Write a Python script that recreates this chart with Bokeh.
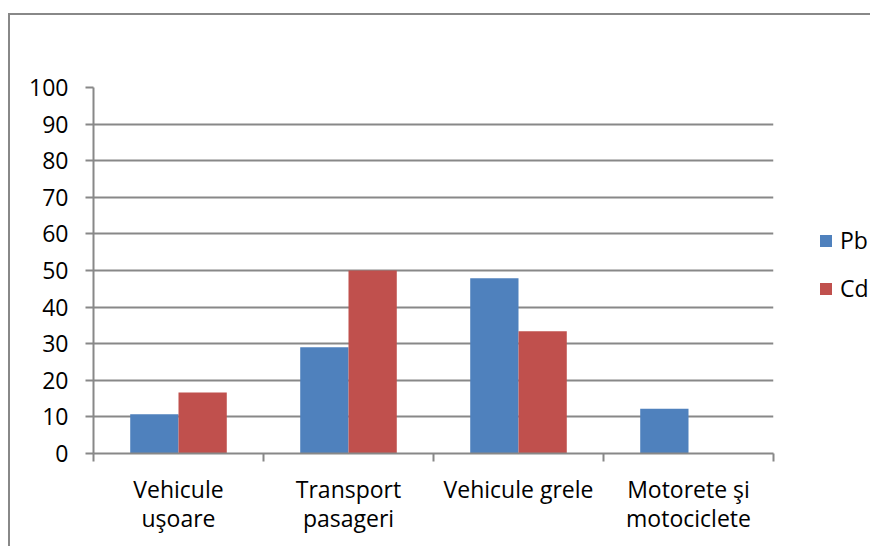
import numpy as np
from bokeh.plotting import figure
from bokeh.models import Range1d, FixedTicker, Legend, LegendItem, ColumnDataSource
from bokeh.embed import file_html
from bokeh.resources import INLINE

categories = ["Vehicule\nuşoare", "Transport\npasageri", "Vehicule grele", "Motorete şi\nmotociclete"]
series_names = ["Pb", "Cd"]
pb_values = [10.7, 29.0, 47.9, 12.2]
cd_values = [16.7, 50.0, 33.4, 0.0]
y_ticks = [0, 10, 20, 30, 40, 50, 60, 70, 80, 90, 100]

PB_COLOR = "#4F81BD"
CD_COLOR = "#C0504D"
GRAY = "#888888"
FONT = "Open Sans"

n = len(categories)
centers = np.arange(n) + 0.5
bw = 0.284

p = figure(output_backend="svg", toolbar_location=None,
           x_range=Range1d(0, n), y_range=Range1d(0, 100),
           frame_width=680, frame_height=366,
           min_border_left=83, min_border_top=72, min_border_right=97, min_border_bottom=93)
p.outline_line_color = None
p.background_fill_color = "white"
p.border_fill_color = "white"
p.styles = {"border-top": "2px solid #888888", "border-left": "2px solid #888888",
            "margin-top": "13px", "margin-left": "8px"}

src = ColumnDataSource(dict(xpb=centers - bw / 2, xcd=centers + bw / 2, pb=pb_values, cd=cd_values))
r_pb = p.vbar(x="xpb", top="pb", width=bw, source=src, fill_color=PB_COLOR, line_color=None)
r_cd = p.vbar(x="xcd", top="cd", width=bw, source=src, fill_color=CD_COLOR, line_color=None)

# x axis: ticks at category boundaries, labels at centers
p.xaxis.ticker = FixedTicker(ticks=list(centers), minor_ticks=list(range(n + 1)))
p.xaxis.major_label_overrides = {float(c): lab for c, lab in zip(centers, categories)}
p.xaxis.major_tick_out = 0
p.xaxis.major_tick_in = 0
p.xaxis.minor_tick_out = 8
p.xaxis.minor_tick_in = 0
p.xaxis.minor_tick_line_color = GRAY
p.xaxis.minor_tick_line_width = 2
p.xaxis.axis_line_color = GRAY
p.xaxis.axis_line_width = 2
p.xaxis.major_label_standoff = 11
p.xaxis.major_label_text_font = FONT
p.xaxis.major_label_text_font_size = "23px"
p.xaxis.major_label_text_color = "black"
p.xaxis.major_label_text_line_height = 0.92

p.yaxis.ticker = FixedTicker(ticks=y_ticks)
p.yaxis.minor_tick_line_color = None
p.yaxis.major_tick_out = 8
p.yaxis.major_tick_in = 0
p.yaxis.major_tick_line_color = GRAY
p.yaxis.major_tick_line_width = 2
p.yaxis.axis_line_color = GRAY
p.yaxis.axis_line_width = 2
p.yaxis.major_label_standoff = 17
p.yaxis.major_label_text_font = FONT
p.yaxis.major_label_text_font_size = "23px"
p.yaxis.major_label_text_color = "black"

p.xgrid.grid_line_color = None
p.ygrid.grid_line_color = GRAY
p.ygrid.grid_line_width = 2
p.ygrid.ticker = FixedTicker(ticks=y_ticks)

legend = Legend(items=[LegendItem(label=series_names[0], renderers=[r_pb]),
                       LegendItem(label=series_names[1], renderers=[r_cd])],
                location=(45, 149), orientation="vertical")
legend.glyph_width = 15
legend.glyph_height = 15
legend.label_height = 15
legend.spacing = 16
legend.padding = 0
legend.margin = 0
legend.label_standoff = 7
legend.border_line_color = None
legend.background_fill_alpha = 0
legend.label_text_font = FONT
legend.label_text_font_size = "23px"
legend.label_text_color = "black"
p.add_layout(legend, "right")

open("out.html", "w").write(file_html(p, INLINE))
